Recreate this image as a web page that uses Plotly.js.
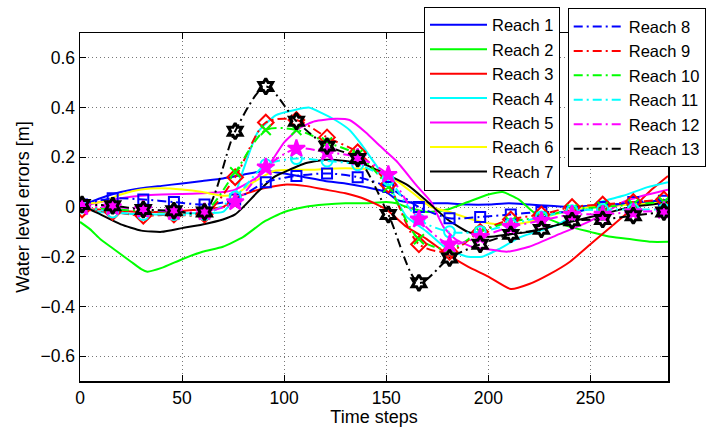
<!DOCTYPE html>
<html>
<head>
<meta charset="utf-8">
<script src="https://cdn.plot.ly/plotly-3.0.1.min.js"></script>
<style>html,body{margin:0;padding:0;background:#fff;}#chart{width:715px;height:434px;}</style>
</head>
<body>
<div id="chart"></div>
<script>
// ---- Solid-line series (Reach 1-7) ----
const r1T = [0,5,10,20,30,40,50,60,70,80,90,100,110,120,130,140,150,155,160,170,180,190,200,210,220,230,240,250,260,270,280,288];
const r1V = [0.01,0.02,0.035,0.06,0.075,0.085,0.095,0.105,0.115,0.13,0.145,0.135,0.12,0.105,0.095,0.08,0.06,0.03,0.02,0.015,0.015,0.01,0.01,0.015,0.01,0.005,0.0,0.005,0.01,0.015,0.02,0.03];

const r2T = [0,5,10,15,20,25,30,33,40,50,60,70,80,90,100,110,120,130,140,150,155,160,170,180,190,200,207,215,222,230,240,250,260,270,280,288];
const r2V = [-0.06,-0.09,-0.13,-0.16,-0.19,-0.22,-0.25,-0.26,-0.245,-0.21,-0.18,-0.16,-0.12,-0.06,-0.02,0.0,0.01,0.015,0.015,0.02,0.015,0.0,-0.02,-0.01,0.02,0.05,0.06,0.03,-0.02,-0.05,-0.08,-0.1,-0.12,-0.13,-0.14,-0.14];

const r3T = [0,5,10,20,30,40,50,60,70,75,80,90,100,110,120,130,140,150,160,170,180,190,200,211,220,230,240,250,260,270,280,288];
const r3V = [0.0,-0.01,-0.01,-0.015,-0.02,-0.02,-0.015,-0.01,0.0,0.03,0.05,0.075,0.09,0.085,0.07,0.055,0.03,-0.01,-0.08,-0.13,-0.19,-0.24,-0.28,-0.33,-0.31,-0.27,-0.22,-0.15,-0.08,-0.01,0.07,0.125];

const r4T = [0,10,20,30,40,50,60,70,75,80,87,96,105,112,118,125,132,138,144,150,155,160,170,180,190,197,205,216,233,246,255,266,278,288];
const r4V = [0.0,-0.02,-0.025,-0.03,-0.03,-0.025,-0.025,-0.02,0.03,0.15,0.3,0.37,0.39,0.4,0.38,0.35,0.31,0.25,0.18,0.11,0.03,-0.04,-0.1,-0.17,-0.2,-0.2,-0.17,-0.12,-0.075,-0.015,0.02,0.045,0.08,0.1];

const r5T = [0,10,20,30,40,50,60,70,76,85,91,100,108,115,125,132,140,147,155,165,172,178,184,192,200,209,220,233,249,258,266,278,288];
const r5V = [0.0,0.02,0.035,0.045,0.05,0.052,0.055,0.06,0.07,0.11,0.15,0.26,0.32,0.345,0.355,0.35,0.3,0.245,0.185,0.085,0.02,-0.08,-0.13,-0.16,-0.17,-0.18,-0.16,-0.115,-0.06,-0.02,0.02,0.05,0.07];

const r6T = [0,10,20,30,40,50,60,70,76,85,95,105,115,125,135,145,150,156,164,172,181,190,200,210,220,230,240,250,260,270,280,288];
const r6V = [0.01,0.02,0.05,0.07,0.075,0.07,0.06,0.045,0.05,0.1,0.145,0.15,0.15,0.155,0.155,0.15,0.13,0.1,0.05,0.0,-0.02,-0.045,-0.065,-0.07,-0.06,-0.035,-0.015,0.0,0.005,0.01,0.015,0.02];

const r7T = [0,5,10,20,30,40,50,60,70,76,80,87,95,100,110,120,130,140,145,153,161,169,180,190,200,210,220,230,240,250,260,270,280,288];
const r7V = [0.0,-0.01,-0.03,-0.07,-0.095,-0.1,-0.085,-0.07,-0.05,-0.03,0.0,0.06,0.12,0.14,0.175,0.19,0.185,0.17,0.15,0.12,0.085,0.03,-0.05,-0.1,-0.12,-0.11,-0.1,-0.08,-0.06,-0.04,-0.02,0.0,0.01,0.02];

// ---- Marked series (Reach 8-13), sampled every 15 steps ----
const markT = [1,16,31,46,61,76,91,106,121,136,151,166,181,196,211,226,241,256,271,286];
const r8V  = [0.01,0.035,0.03,0.02,0.01,0.03,0.1,0.125,0.135,0.12,0.08,0.0,-0.045,-0.04,-0.03,-0.02,-0.02,0.0,0.02,0.025];
const r9V  = [-0.01,-0.02,-0.035,-0.03,-0.03,0.12,0.34,0.35,0.28,0.22,0.09,-0.15,-0.18,-0.1,-0.05,-0.03,0.0,0.01,0.02,0.03];
const r10V = [0.0,-0.01,-0.015,-0.02,-0.02,0.14,0.31,0.31,0.26,0.21,0.08,-0.13,-0.17,-0.1,-0.06,-0.04,-0.01,0.0,0.01,0.02];
const r11V = [0.0,-0.02,-0.03,-0.03,-0.03,0.04,0.17,0.195,0.185,0.17,0.11,-0.05,-0.1,-0.1,-0.07,-0.04,-0.015,-0.01,-0.01,-0.01];
const r12V = [0.0,0.0,-0.01,-0.02,-0.02,0.02,0.16,0.235,0.22,0.2,0.13,-0.05,-0.15,-0.12,-0.08,-0.055,-0.03,-0.03,-0.02,-0.015];
const r13V = [0.01,0.005,-0.01,-0.015,-0.02,0.305,0.485,0.345,0.245,0.195,-0.03,-0.305,-0.205,-0.15,-0.11,-0.09,-0.055,-0.05,-0.035,-0.02];

const solidNames = ['Reach 1','Reach 2','Reach 3','Reach 4','Reach 5','Reach 6','Reach 7'];
const markNames = ['Reach 8','Reach 9','Reach 10','Reach 11','Reach 12','Reach 13'];
const xTicks = [0,50,100,150,200,250];
const yTicks = [-0.6,-0.4,-0.2,0,0.2,0.4,0.6];

const solidColors = ['#0000ff','#00ff00','#ff0000','#00ffff','#ff00ff','#ffff00','#000000'];
const markColors = ['#0000ff','#ff0000','#00ff00','#00ffff','#ff00ff','#000000'];
const markSymbols = ['square-open','diamond-open','x-thin-open','circle-open','star','hexagram-open'];
const markSizes = [10,12,10,11,13,12];
const markLineW = [2,2,2,2,2,3];

const solidT = [r1T,r2T,r3T,r4T,r5T,r6T,r7T];
const solidV = [r1V,r2V,r3V,r4V,r5V,r6V,r7V];
const markV = [r8V,r9V,r10V,r11V,r12V,r13V];

const traces = [];
solidNames.forEach((n,i)=>{
  traces.push({x: solidT[i], y: solidV[i], name: n, type:'scatter', mode:'lines',
    line:{color: solidColors[i], width:2, shape:'spline', smoothing:0.5}, legend:'legend'});
});
markNames.forEach((n,i)=>{
  traces.push({x: markT, y: markV[i], name: n, type:'scatter', mode:'lines',
    line:{color: markColors[i], width:2, dash:'9px,4px,2px,4px', shape:'spline', smoothing:0.8}, legend:'legend2'});
});
markNames.forEach((n,i)=>{
  traces.push({x: markT, y: markV[i], name: n, type:'scatter', mode:'markers', showlegend:false,
    marker:{symbol: markSymbols[i], color: markColors[i], size: markSizes[i],
      line:{color: markColors[i], width: markLineW[i]}}});
});

const fam = 'Liberation Sans, Arial, Helvetica, sans-serif';
const axisCommon = {
  showline:true, linecolor:'#000', linewidth:1.5, mirror:'allticks',
  ticks:'inside', ticklen:6, tickcolor:'#000', tickwidth:1,
  showgrid:true, gridcolor:'#777', griddash:'1px,3px', gridwidth:1,
  zeroline:false, tickfont:{family:fam, size:17.5, color:'#000'}
};
const layout = {
  width:715, height:434,
  margin:{l:80, r:47, t:33, b:53, autoexpand:false},
  paper_bgcolor:'#fff', plot_bgcolor:'#fff',
  font:{family:fam, color:'#000'},
  xaxis: Object.assign({}, axisCommon, {range:[0,288], tickvals:xTicks,
    title:{text:'Time steps', font:{family:fam, size:18, color:'#000'}, standoff:3}}),
  yaxis: Object.assign({}, axisCommon, {range:[-0.7,0.7], tickvals:yTicks,
    title:{text:'Water level errors [m]', font:{family:fam, size:18, color:'#000'}, standoff:6}}),
  legend:{xref:'container', yref:'container', x:0.593, y:0.985, xanchor:'left', yanchor:'top',
    bgcolor:'#fff', bordercolor:'#000', borderwidth:1,
    font:{family:fam, size:16.5, color:'#000'}, itemwidth:57, tracegroupgap:0},
  legend2:{xref:'container', yref:'container', x:0.794, y:0.981, xanchor:'left', yanchor:'top',
    bgcolor:'#fff', bordercolor:'#000', borderwidth:1,
    font:{family:fam, size:16.5, color:'#000'}, itemwidth:50, tracegroupgap:0},
  showlegend:true
};
Plotly.newPlot('chart', traces, layout, {displayModeBar:false, staticPlot:true});
</script>
</body>
</html>
